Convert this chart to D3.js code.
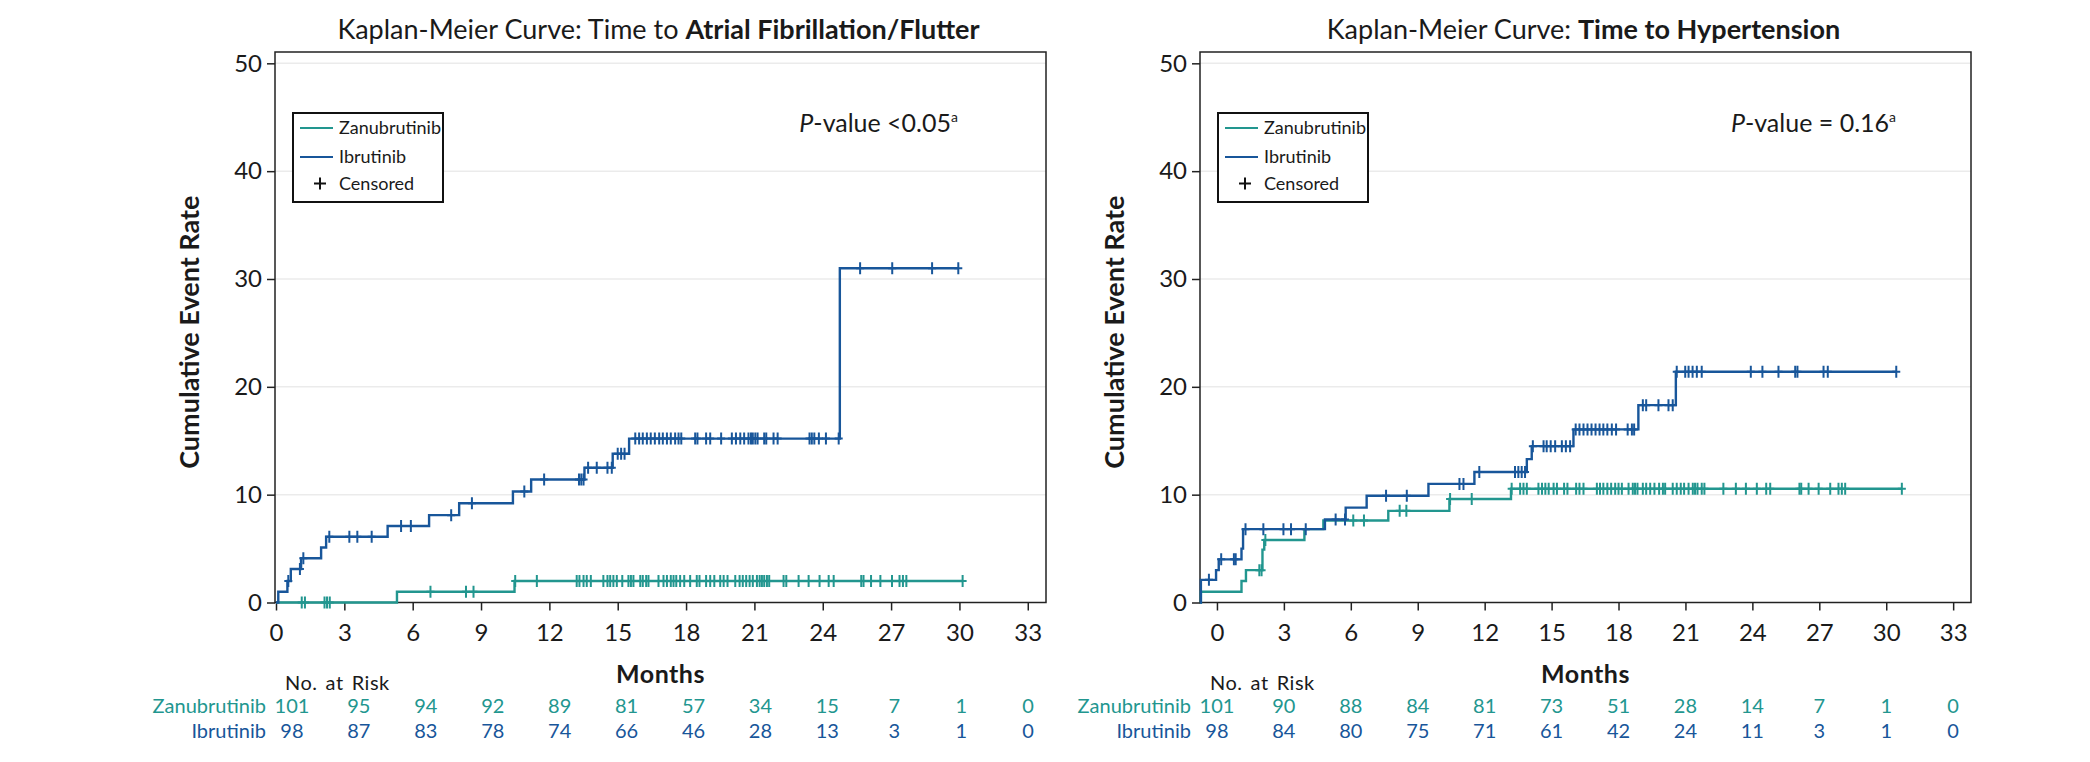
<!DOCTYPE html>
<html lang="en">
<head>
<meta charset="UTF-8">
<title>Kaplan-Meier Curves</title>
<script src="https://cdn.jsdelivr.net/npm/d3@7"></script>
<style>
    body { margin: 0; background: #fff; font-family: 'Lato', sans-serif; }
    .grid line { stroke: #ebebeb; stroke-width: 1.5px; }
    .frame { fill: none; stroke: #222; stroke-width: 1.5px; }
    .km { fill: none; stroke-width: 2.4px; }
    .censor { fill: none; stroke-width: 2px; }
    .tick text { fill: #1a1a1a; }
    .tick line { stroke: #222; stroke-width: 1.5px; }
</style>
</head>
<body>
<svg id="chart" width="2090" height="762"></svg>
<script>
// month ticks and number-at-risk times
const months = [0, 3, 6, 9, 12, 15, 18, 21, 24, 27, 30, 33];
const rates = [0, 10, 20, 30, 40, 50];
const seriesNames = ["Zanubrutinib", "Ibrutinib"];

// Atrial fibrillation / flutter: [month, cumulative event rate] at each step
const afZanuSteps = [[0, 0], [5.31, 1.0], [10.47, 2.0]];
const afZanuCensor = [1.13, 1.27, 2.13, 2.24, 2.36, 6.78, 8.34, 8.67, 10.5, 11.45, 13.2, 13.32, 13.5, 13.64, 13.82,
    14.37, 14.55, 14.67, 14.81, 14.96, 15.2, 15.47, 15.58, 15.69, 15.99, 16.1, 16.25, 16.35, 16.79, 17.01, 17.16,
    17.33, 17.45, 17.57, 17.74, 17.92, 18.18, 18.47, 18.59, 18.88, 19.06, 19.24, 19.5, 19.65, 19.82, 20.16, 20.35,
    20.49, 20.64, 20.79, 20.93, 21.11, 21.23, 21.33, 21.43, 21.55, 21.65, 22.28, 22.4, 22.94, 23.38, 23.86, 24.26,
    24.48, 25.69, 25.79, 26.12, 26.53, 27.04, 27.37, 27.52, 27.67, 30.14];
const afIbrSteps = [[0, 0], [0.1, 1.0], [0.5, 2.0], [0.65, 3.1], [1.1, 4.1], [1.98, 5.1], [2.2, 6.1], [4.9, 7.1],
    [6.72, 8.1], [8.04, 9.2], [10.4, 10.3], [11.2, 11.4], [13.54, 12.5], [14.78, 13.8], [15.5, 15.2], [24.75, 31.0]];
const afIbrCensor = [0.54, 1.05, 1.2, 2.34, 3.22, 3.57, 4.2, 5.49, 5.92, 7.69, 8.6, 10.9, 11.77, 13.3, 13.4, 13.5,
    13.7, 14.08, 14.55, 14.74, 15.0, 15.15, 15.3, 15.77, 15.94, 16.1, 16.28, 16.45, 16.63, 16.82, 16.98, 17.16,
    17.33, 17.52, 17.67, 17.79, 18.4, 18.5, 18.88, 19.06, 19.54, 20.01, 20.19, 20.38, 20.55, 20.74, 20.85, 20.93,
    21.04, 21.14, 21.43, 21.52, 21.84, 22.02, 23.42, 23.52, 23.63, 23.83, 24.14, 24.7, 25.64, 27.05, 28.8, 29.95];
const afZanuRisk = [101, 95, 94, 92, 89, 81, 57, 34, 15, 7, 1, 0];
const afIbrRisk = [98, 87, 83, 78, 74, 66, 46, 28, 13, 3, 1, 0];

// Hypertension
const htnZanuSteps = [[-0.76, 0], [-0.72, 1.0], [1.1, 2.0], [1.3, 3.0], [2.04, 4.9], [2.12, 5.8], [3.92, 6.8],
    [4.77, 7.6], [7.68, 8.5], [10.42, 9.6], [13.18, 10.55]];
const htnZanuCensor = [1.9, 2.0, 2.17, 6.11, 6.59, 8.19, 8.49, 10.45, 11.42, 13.21, 13.59, 13.74, 13.89, 14.41,
    14.57, 14.72, 14.87, 15.09, 15.24, 15.56, 15.71, 16.1, 16.25, 16.43, 17.03, 17.17, 17.32, 17.5, 17.67, 17.85,
    18.0, 18.15, 18.45, 18.64, 18.74, 18.85, 19.09, 19.24, 19.42, 19.61, 19.82, 19.99, 20.09, 20.43, 20.61, 20.79,
    20.94, 21.14, 21.33, 21.43, 21.54, 21.73, 21.85, 22.7, 23.26, 23.71, 24.2, 24.62, 24.8, 26.11, 26.19, 26.52,
    26.97, 27.49, 27.86, 28.01, 28.16, 30.7];
const htnIbrSteps = [[-0.76, 0], [-0.72, 2.1], [-0.04, 3.0], [0.08, 4.0], [1.1, 5.0], [1.17, 6.8], [4.84, 7.7],
    [5.77, 8.8], [6.71, 9.9], [9.48, 11.0], [11.54, 12.1], [13.89, 13.3], [14.11, 14.5], [15.98, 16.05],
    [18.89, 18.3], [20.57, 21.4]];
const htnIbrCensor = [-0.36, 0.19, 0.76, 0.84, 1.28, 2.08, 2.98, 3.32, 3.98, 5.32, 5.74, 7.58, 8.51, 10.87, 11.05,
    11.76, 13.36, 13.51, 13.66, 13.81, 14.16, 14.64, 14.78, 14.96, 15.16, 15.46, 15.64, 15.83, 16.08, 16.25, 16.43,
    16.61, 16.79, 16.97, 17.15, 17.32, 17.5, 17.7, 17.89, 18.41, 18.6, 18.7, 19.09, 19.24, 19.79, 20.24, 20.43,
    20.61, 20.99, 21.14, 21.32, 21.51, 21.73, 23.93, 24.45, 25.17, 25.92, 26.02, 27.19, 27.38, 30.45];
const htnZanuRisk = [101, 90, 88, 84, 81, 73, 51, 28, 14, 7, 1, 0];
const htnIbrRisk = [98, 84, 80, 75, 71, 61, 42, 24, 11, 3, 1, 0];

const colors = {"Zanubrutinib": "#22968f", "Ibrutinib": "#18569a"};
const ink = "#1a1a1a";

// panel layout
const panels = [
    {left: 275, xStart: -0.044, titleReg: "Kaplan-Meier Curve: Time to ", titleBold: "Atrial Fibrillation/Flutter",
     pText: "-value <0.05", pEnd: 958,
     series: [{name: "Zanubrutinib", steps: afZanuSteps, censor: afZanuCensor, risk: afZanuRisk},
              {name: "Ibrutinib", steps: afIbrSteps, censor: afIbrCensor, risk: afIbrRisk}]},
    {left: 1200, xStart: -0.76, titleReg: "Kaplan-Meier Curve: ", titleBold: "Time to Hypertension",
     pText: "-value = 0.16", pEnd: 1896,
     series: [{name: "Zanubrutinib", steps: htnZanuSteps, censor: htnZanuCensor, risk: htnZanuRisk},
              {name: "Ibrutinib", steps: htnIbrSteps, censor: htnIbrCensor, risk: htnIbrRisk}]}
];

const plotW = 771, plotTop = 52, plotBottom = 602.5, xEnd = 33.8;
const svg = d3.select("#chart");

// value of a step curve at time t
function stepValue(steps, t) {
    let v = steps[0][1];
    steps.forEach(s => { if (s[0] <= t) v = s[1]; });
    return v;
}

panels.forEach(p => {
    const g = svg.append("g");
    const x = d3.scaleLinear().domain([p.xStart, xEnd]).range([p.left, p.left + plotW]);
    const xRisk = d3.scaleLinear().domain([-0.76, xEnd]).range([p.left, p.left + plotW]);
    const y = d3.scaleLinear().domain([0, 51.05]).range([plotBottom, plotTop]);
    const cx = p.left + plotW / 2;

    // gridlines
    g.append("g").attr("class", "grid")
        .selectAll("line").data(rates.slice(1)).join("line")
        .attr("x1", p.left).attr("x2", p.left + plotW)
        .attr("y1", d => y(d)).attr("y2", d => y(d));

    // axes
    const xAxis = g.append("g")
        .attr("transform", "translate(0," + plotBottom + ")")
        .call(d3.axisBottom(x).tickValues(months).tickSize(8).tickPadding(13));
    xAxis.select(".domain").remove();
    xAxis.selectAll("text").style("font-size", "24px").style("font-family", "Lato");

    const yAxis = g.append("g")
        .attr("transform", "translate(" + p.left + ",0)")
        .call(d3.axisLeft(y).tickValues(rates).tickSize(8).tickPadding(5));
    yAxis.select(".domain").remove();
    yAxis.selectAll("text").style("font-size", "24px").style("font-family", "Lato");

    g.append("rect").attr("class", "frame")
        .attr("x", p.left).attr("y", plotTop)
        .attr("width", plotW).attr("height", plotBottom - plotTop);

    // curves
    const line = d3.line().x(d => x(d[0])).y(d => y(d[1])).curve(d3.curveStepAfter);
    p.series.forEach(s => {
        const last = s.censor[s.censor.length - 1];
        const pts = s.steps.concat([[last, s.steps[s.steps.length - 1][1]]]);
        g.append("path").attr("class", "km")
            .attr("stroke", colors[s.name])
            .attr("d", line(pts));
        g.append("g").selectAll("path").data(s.censor).join("path")
            .attr("class", "censor")
            .attr("stroke", colors[s.name])
            .attr("d", t => {
                const px = x(t), py = y(stepValue(s.steps, t));
                return "M" + px + "," + (py - 6) + "V" + (py + 6) + "M" + (px - 4) + "," + py + "H" + (px + 4);
            });
    });

    // title
    const title = g.append("text")
        .attr("x", cx - 2).attr("y", 39)
        .attr("text-anchor", "middle")
        .style("font-size", "27px").style("fill", ink);
    title.append("tspan").text(p.titleReg);
    title.append("tspan").style("font-weight", "bold").text(p.titleBold);

    // p-value
    const pv = g.append("text")
        .attr("x", p.pEnd).attr("y", 132)
        .attr("text-anchor", "end")
        .style("font-size", "25px").style("fill", ink);
    pv.append("tspan").style("font-style", "italic").text("P");
    pv.append("tspan").text(p.pText);
    pv.append("tspan").attr("dy", -10).style("font-size", "14px").text("a");

    // legend
    const lx = p.left + 18, ly = 113;
    const lg = g.append("g");
    lg.append("rect").attr("x", lx).attr("y", ly).attr("width", 150).attr("height", 89)
        .attr("fill", "#fff").attr("stroke", "#111").attr("stroke-width", 2);
    const rows = [15, 44, 70.5];
    seriesNames.forEach((n, i) => {
        lg.append("line")
            .attr("x1", lx + 7).attr("x2", lx + 40)
            .attr("y1", ly + rows[i]).attr("y2", ly + rows[i])
            .attr("stroke", colors[n]).attr("stroke-width", 2);
        lg.append("text").attr("x", lx + 46).attr("y", ly + rows[i] + 6)
            .style("font-size", "18px").style("fill", ink).text(n);
    });
    lg.append("path")
        .attr("d", "M" + (lx + 27) + "," + (ly + rows[2] - 6) + "V" + (ly + rows[2] + 6) +
              "M" + (lx + 21) + "," + (ly + rows[2]) + "H" + (lx + 33))
        .attr("stroke", "#111").attr("stroke-width", 2);
    lg.append("text").attr("x", lx + 46).attr("y", ly + rows[2] + 6)
        .style("font-size", "18px").style("fill", ink).text("Censored");

    // axis titles
    g.append("text")
        .attr("x", cx).attr("y", 683)
        .attr("text-anchor", "middle")
        .style("font-size", "25px").style("font-weight", "bold").style("fill", ink)
        .style("letter-spacing", "0.5px")
        .text("Months");
    g.append("text")
        .attr("transform", "translate(" + (p.left - 76) + "," + ((plotTop + plotBottom) / 2 + 5) + ") rotate(-90)")
        .attr("text-anchor", "middle")
        .style("font-size", "27px").style("font-weight", "bold").style("fill", ink)
        .text("Cumulative Event Rate");

    // number at risk table
    g.append("text")
        .attr("x", xRisk(0) - 7).attr("y", 690)
        .style("font-size", "20px").style("fill", ink)
        .style("word-spacing", "2.5px").style("letter-spacing", "0.5px")
        .text("No. at Risk");
    p.series.forEach((s, i) => {
        const ry = 713 + i * 25;
        g.append("text")
            .attr("x", xRisk(0) - 26).attr("y", ry)
            .attr("text-anchor", "end")
            .style("font-size", "20px").style("fill", colors[s.name])
            .text(s.name);
        g.append("g").selectAll("text").data(s.risk).join("text")
            .attr("x", (d, j) => xRisk(months[j])).attr("y", ry)
            .attr("text-anchor", "middle")
            .style("font-size", "20px").style("fill", colors[s.name])
            .text(d => d);
    });
});
</script>
</body>
</html>
